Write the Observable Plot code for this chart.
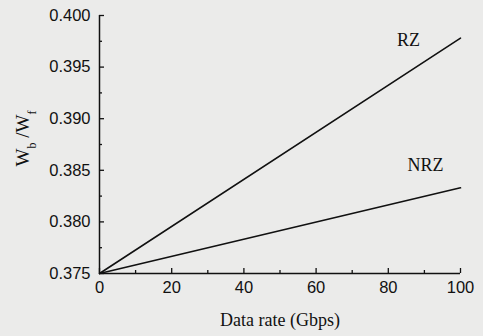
<!DOCTYPE html>
<html>
<head>
<meta charset="utf-8">
<script src="https://cdn.jsdelivr.net/npm/d3@7"></script>
<script src="https://cdn.jsdelivr.net/npm/@observablehq/plot@0.6"></script>
<style>
  html, body { margin: 0; padding: 0; background: #ebebea; }
  #chart svg { display: block; }
</style>
</head>
<body>
<div id="chart"></div>
<script>
// Data
const rate = [0, 100];                 // Data rate (Gbps)
const rzRatio = [0.375, 0.3978];       // W_b/W_f for RZ
const nrzRatio = [0.375, 0.3833];      // W_b/W_f for NRZ

const xTicks = [0, 20, 40, 60, 80, 100];
const xMinor = [10, 30, 50, 70, 90];
const yTicks = [0.375, 0.380, 0.385, 0.390, 0.395, 0.400];
const yMinor = [0.3775, 0.3825, 0.3875, 0.3925, 0.3975];

const seriesNames = ["RZ", "NRZ"];
const labelX = [85.6, 90.3];
const labelY = [0.3976, 0.38547];

const xDomain = [0, 100];
const yDomain = [0.375, 0.400];

const rows = [];
rate.forEach((r, i) => {
  rows.push({series: "RZ", rate: r, v: rzRatio[i]});
  rows.push({series: "NRZ", rate: r, v: nrzRatio[i]});
});
const labels = seriesNames.map((s, i) => ({s, x: labelX[i], y: labelY[i]}));

const serif = "'Liberation Serif', 'DejaVu Serif', serif";
const sans = "'Liberation Sans', Arial, sans-serif";

const chart = Plot.plot({
  width: 483,
  height: 336,
  marginLeft: 99,
  marginRight: 23,
  marginTop: 15,
  marginBottom: 63,
  style: {background: "#ebebea", color: "#111", fontFamily: sans},
  x: {domain: xDomain},
  y: {domain: yDomain},
  marks: [
    // axis lines
    Plot.ruleX([xDomain[0]], {stroke: "#111", strokeWidth: 1.5}),
    Plot.ruleY([yDomain[0]], {stroke: "#111", strokeWidth: 1.5}),
    // inward ticks (drawn outward, then shifted inside)
    Plot.axisY(yTicks, {tickSize: 5, dx: 5, tickFormat: () => "", label: null, stroke: "#111", strokeWidth: 1.3}),
    Plot.axisY(yMinor, {tickSize: 3, dx: 3, tickFormat: () => "", label: null, stroke: "#111", strokeWidth: 1.3}),
    Plot.axisX(xTicks, {tickSize: 5, dy: -5, tickFormat: () => "", label: null, stroke: "#111", strokeWidth: 1.3}),
    Plot.axisX(xMinor, {tickSize: 3, dy: -3, tickFormat: () => "", label: null, stroke: "#111", strokeWidth: 1.3}),
    // tick labels
    Plot.axisY(yTicks, {tickSize: 0, tickPadding: 9, tickFormat: d3.format(".3f"), label: null, fontSize: 16.5, fill: "#111"}),
    Plot.axisX(xTicks, {tickSize: 0, tickPadding: 8, tickFormat: d3.format("d"), label: null, fontSize: 16.5, fill: "#111"}),
    // axis titles
    Plot.text(["Data rate (Gbps)"], {frameAnchor: "bottom", dy: 47, lineAnchor: "middle", fontFamily: serif, fontSize: 18, fill: "#111"}),
    Plot.text(["YLABEL"], {frameAnchor: "left", dx: -77, dy: -6, rotate: -90, lineAnchor: "middle", textAnchor: "middle", fontFamily: serif, fontSize: 19, fill: "#111"}),
    // lines
    Plot.line(rows, {x: "rate", y: "v", z: "series", stroke: "#111", strokeWidth: 1.6}),
    // series labels
    Plot.text(labels, {x: "x", y: "y", text: "s", fontFamily: serif, fontSize: 18, fill: "#111"})
  ]
});

document.getElementById("chart").appendChild(chart);

// Replace y-label placeholder with subscripted text
d3.select(chart).selectAll("text").filter(function () { return this.textContent === "YLABEL"; })
  .each(function () {
    const t = d3.select(this);
    t.text(null);
    t.append("tspan").text("W");
    t.append("tspan").attr("baseline-shift", "sub").attr("font-size", "12").text("b");
    t.append("tspan").text(" /W");
    t.append("tspan").attr("baseline-shift", "sub").attr("font-size", "12").text("f");
  });
</script>
</body>
</html>
